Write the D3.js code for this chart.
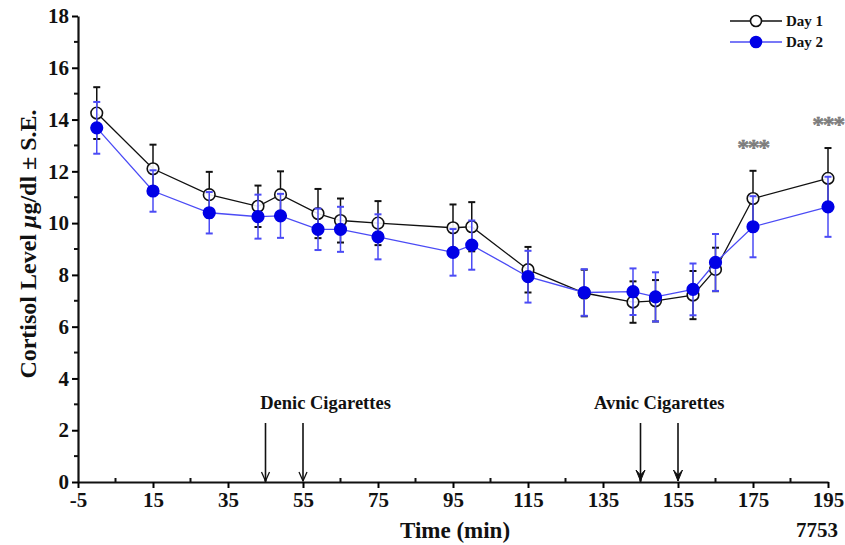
<!DOCTYPE html>
<html>
<head>
<meta charset="utf-8">
<script src="https://cdn.jsdelivr.net/npm/d3@7"></script>
<style>
body { margin: 0; background: #fff; }
text { font-family: "Liberation Serif", "Times New Roman", serif; font-weight: bold; }
</style>
</head>
<body>
<div id="chart"></div>
<script>
// sampling times (min) and cortisol means / standard errors
var times  = [0, 15, 30, 43, 49, 59, 65, 75, 95, 100, 115, 130, 143, 149, 159, 165, 175, 195];
var day1   = [14.25, 12.1, 11.1, 10.65, 11.1, 10.37, 10.1, 10.0, 9.82, 9.86, 8.2, 7.3, 6.95, 7.0, 7.22, 8.21, 10.95, 11.73];
var day1SE = [1.0, 0.93, 0.88, 0.8, 0.9, 0.95, 0.85, 0.85, 0.9, 0.95, 0.88, 0.9, 0.8, 0.8, 0.93, 0.84, 1.07, 1.17];
var day2   = [13.68, 11.24, 10.4, 10.25, 10.28, 9.76, 9.76, 9.47, 8.87, 9.15, 7.93, 7.32, 7.35, 7.15, 7.44, 8.48, 9.86, 10.63];
var day2SE = [1.0, 0.8, 0.8, 0.85, 0.85, 0.8, 0.87, 0.87, 0.9, 0.95, 1.0, 0.9, 0.9, 0.95, 1.0, 1.1, 1.18, 1.16];

var xTicks = [-5, 15, 35, 55, 75, 95, 115, 135, 155, 175, 195];
var xMinor = [5, 25, 45, 65, 85, 105, 125, 145, 165, 185];
var yTicks = [0, 2, 4, 6, 8, 10, 12, 14, 16, 18];
var yMinor = [1, 3, 5, 7, 9, 11, 13, 15, 17];

var cigLabels = ["Denic Cigarettes", "Avnic Cigarettes"];
var cigTimes  = [[45, 55], [145, 155]];
var cigLabelAt = [61, 150];
var sigTimes = [175, 195];

function init() {
    var W = 845, H = 545;
    var m = {left: 78, top: 16, right: 17, bottom: 63};
    var w = W - m.left - m.right;
    var h = H - m.top - m.bottom;

    var svg = d3.select("#chart").append("svg")
        .attr("width", W)
        .attr("height", H);

    var g = svg.append("g").attr("transform", "translate(" + m.left + "," + m.top + ")");

    var x = d3.scaleLinear().domain([-5, 195]).range([0, w]);
    var y = d3.scaleLinear().domain([0, 18]).range([h, 0]);

    // axes
    var xAxis = g.append("g").attr("transform", "translate(0," + h + ")")
        .call(d3.axisBottom(x).tickValues(xTicks).tickFormat(function(d){ return String(d); })
            .tickSize(6).tickPadding(4).tickSizeOuter(0));
    xAxis.selectAll(".tick text").attr("font-size", 21).attr("fill", "#111");
    xAxis.selectAll(".tick line").attr("stroke-width", 2);
    xAxis.select(".domain").attr("stroke-width", 2.2).attr("stroke", "#111");
    xAxis.selectAll(".minor").data(xMinor).enter().append("line")
        .attr("x1", function(d){ return x(d); }).attr("x2", function(d){ return x(d); })
        .attr("y1", 0).attr("y2", -4).attr("stroke", "#111").attr("stroke-width", 2);

    var yAxis = g.append("g")
        .call(d3.axisLeft(y).tickValues(yTicks).tickSize(6).tickPadding(3).tickSizeOuter(0));
    yAxis.selectAll(".tick text").attr("font-size", 21).attr("fill", "#111");
    yAxis.selectAll(".tick line").attr("stroke-width", 2);
    yAxis.select(".domain").attr("stroke-width", 2.2).attr("stroke", "#111");
    yAxis.selectAll(".minor").data(yMinor).enter().append("line")
        .attr("x1", 0).attr("x2", -4)
        .attr("y1", function(d){ return y(d); }).attr("y2", function(d){ return y(d); })
        .attr("stroke", "#111").attr("stroke-width", 2);

    // axis titles
    svg.append("text")
        .attr("x", 455).attr("y", 538)
        .attr("text-anchor", "middle").attr("font-size", 23).attr("fill", "#111")
        .text("Time (min)");
    svg.append("text")
        .attr("x", 838).attr("y", 537)
        .attr("text-anchor", "end").attr("font-size", 21).attr("fill", "#111")
        .text("7753");

    var yt = svg.append("text")
        .attr("transform", "translate(36,244) rotate(-90)")
        .attr("text-anchor", "middle").attr("font-size", 24).attr("fill", "#111");
    yt.append("tspan").text("Cortisol Level ");
    yt.append("tspan").attr("font-style", "italic").text("\u03bc");
    yt.append("tspan").text("g/dl \u00b1 S.E.");

    var series = [
        {vals: day1, se: day1SE, line: "#111", mark: "#111", fill: "#fff"},
        {vals: day2, se: day2SE, line: "#4b4bf5", mark: "#0000e6", fill: "#0000e6"}
    ];

    series.forEach(function(s) {
        var pts = times.map(function(t, i){ return {t: t, v: s.vals[i], e: s.se[i]}; });

        g.append("path").datum(pts)
            .attr("fill", "none").attr("stroke", s.line).attr("stroke-width", 1.3)
            .attr("d", d3.line().x(function(d){ return x(d.t); }).y(function(d){ return y(d.v); }));

        var eb = g.append("g").selectAll("g").data(pts).enter().append("g");
        eb.append("line")
            .attr("x1", function(d){ return x(d.t); }).attr("x2", function(d){ return x(d.t); })
            .attr("y1", function(d){ return y(d.v - d.e); }).attr("y2", function(d){ return y(d.v + d.e); })
            .attr("stroke", s.line).attr("stroke-width", 1.5);
        [-1, 1].forEach(function(k) {
            eb.append("line")
                .attr("x1", function(d){ return x(d.t) - 3.5; }).attr("x2", function(d){ return x(d.t) + 3.5; })
                .attr("y1", function(d){ return y(d.v + k * d.e); }).attr("y2", function(d){ return y(d.v + k * d.e); })
                .attr("stroke", s.line).attr("stroke-width", 2);
        });

        g.append("g").selectAll("circle").data(pts).enter().append("circle")
            .attr("cx", function(d){ return x(d.t); })
            .attr("cy", function(d){ return y(d.v); })
            .attr("r", 5.8)
            .attr("fill", s.fill).attr("fill-opacity", s.fill == "#fff" ? 0.9 : 1)
            .attr("stroke", s.mark).attr("stroke-width", 1.6);
    });

    // significance asterisks
    g.selectAll(".sig").data(sigTimes).enter().append("text")
        .attr("x", function(d){ return x(d); })
        .attr("y", function(d){ var i = times.indexOf(d); return y(day1[i] + day1SE[i]) - 16; })
        .attr("text-anchor", "middle").attr("font-size", 24)
        .attr("fill", "#888").attr("stroke", "#666").attr("stroke-width", 0.4)
        .attr("letter-spacing", -1.5)
        .text("***");

    // cigarette arrows
    cigLabels.forEach(function(lab, k) {
        g.append("text")
            .attr("x", x(cigLabelAt[k])).attr("y", 393)
            .attr("text-anchor", "middle").attr("font-size", 18.5).attr("fill", "#111")
            .text(lab);
        cigTimes[k].forEach(function(t) {
            var cx = x(t);
            g.append("line")
                .attr("x1", cx).attr("x2", cx).attr("y1", 407).attr("y2", h - 1)
                .attr("stroke", "#111").attr("stroke-width", 1.6);
            if (k == 0) {
                g.append("path")
                    .attr("d", "M" + (cx - 4) + "," + (h - 10) + "L" + cx + "," + (h - 1) + "L" + (cx + 4) + "," + (h - 10))
                    .attr("fill", "none").attr("stroke", "#111").attr("stroke-width", 1.3);
            } else {
                g.append("path")
                    .attr("d", "M" + (cx - 4.5) + "," + (h - 12) + "L" + cx + "," + (h - 1) + "L" + (cx + 4.5) + "," + (h - 12) + "L" + cx + "," + (h - 7) + "Z")
                    .attr("fill", "#111").attr("stroke", "#111").attr("stroke-width", 1);
            }
        });
    });

    // legend
    var legend = svg.append("g");
    series.forEach(function(s, i) {
        var ly = 21 + i * 21;
        legend.append("line").attr("x1", 730).attr("x2", 782).attr("y1", ly).attr("y2", ly)
            .attr("stroke", s.line).attr("stroke-width", 1.5);
        legend.append("circle").attr("cx", 756).attr("cy", ly).attr("r", 5.5)
            .attr("fill", s.fill).attr("stroke", s.mark).attr("stroke-width", 1.6);
        legend.append("text").attr("x", 786).attr("y", ly + 5)
            .attr("font-size", 15).attr("fill", "#111")
            .text("Day " + (i + 1));
    });
}

window.onload = init;
</script>
</body>
</html>
